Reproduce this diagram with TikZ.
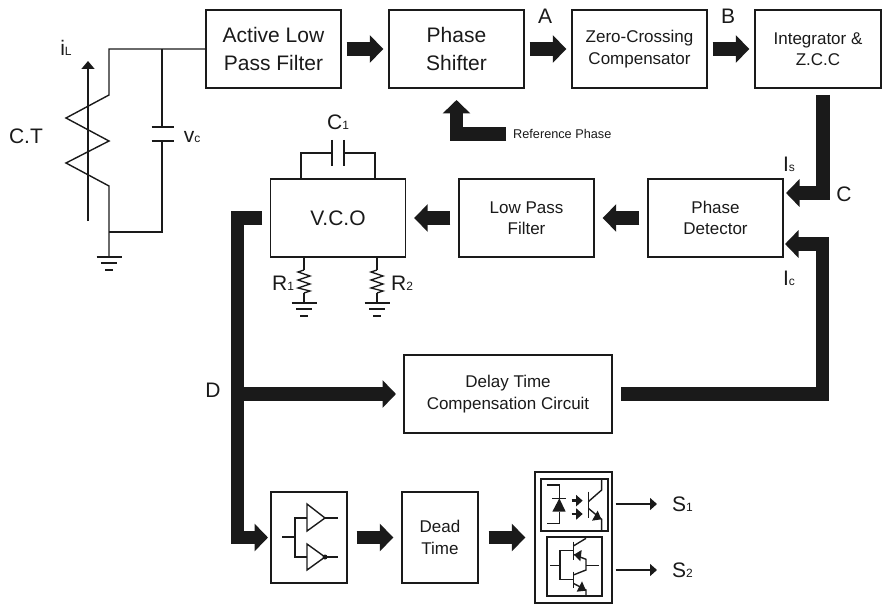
\documentclass[tikz,border=0pt]{standalone}
\usepackage{fontspec}
\setmainfont{Liberation Sans}
\usetikzlibrary{arrows.meta,calc}
\definecolor{ink}{HTML}{1A1A1A}
\newcommand\sbs[1]{{\fontsize{12}{12}\selectfont #1}}
\newcommand\bigtxt{\fontsize{21}{28}\selectfont}
\newcommand\midtxt{\fontsize{17}{21.5}\selectfont}
\tikzset{
  wire/.style={line width=1.4pt,draw=ink,line join=miter},
  thin wire/.style={line width=1.3pt,draw=ink},
  boxnode/.style={draw=ink,line width=1.4pt,inner sep=0pt,align=center,text=ink,minimum height=78pt},
  lbl/.style={inner sep=0pt,text=ink,font=\bigtxt},
  blockarrow/.style={draw=ink,line width=13.5pt,line join=miter,line cap=butt,
     -{Triangle[length=13.5pt,width=27pt,color=ink]}},
  sig/.style={wire,-{Triangle[length=7pt,width=12pt,color=ink]}},
  led/.style={line width=2.6pt,draw=ink,-{Triangle[length=6.5pt,width=11pt,color=ink]}},
  gnd/.pic={
    \draw[thin wire] (-12.5,0)--(12.5,0);
    \draw[thin wire] (-8,6)--(8,6);
    \draw[line width=1.7pt,draw=ink] (-4,13)--(4,13);
  },
  zz/.pic={
    \draw[thin wire] (0,0)--(-6,2)--(6,6)--(-6,10)--(6,14)--(-6,18)--(6,21)--(0,23);
  }
}
\begin{document}
\begin{tikzpicture}[x=1pt,y=-1pt]
\useasboundingbox (0,0) rectangle (882,604);
% ---- boxes
\node[boxnode,minimum width=135pt,font=\bigtxt] (alpf) at (273.5,49) {Active Low\\Pass Filter};
\node[boxnode,minimum width=135pt,font=\bigtxt] (shift) at (456.5,49) {Phase\\Shifter};
\node[boxnode,minimum width=135pt,font=\midtxt] (zcc) at (639.5,49) {Zero-Crossing\\Compensator};
\node[boxnode,minimum width=126pt,font=\midtxt] (integ) at (818,49) {Integrator \&\\Z.C.C};
\node[boxnode,minimum width=135pt,font=\midtxt] (pd) at (715.5,218) {Phase\\Detector};
\node[boxnode,minimum width=135pt,font=\midtxt] (lpf) at (526.5,218) {Low Pass\\Filter};
\node[boxnode,minimum width=135pt,font=\bigtxt] (vco) at (338,218) {V.C.O};
\node[boxnode,minimum width=208pt,font=\midtxt] (delay) at (508,394) {Delay Time\\Compensation Circuit};
\node[boxnode,minimum width=76pt,minimum height=91pt] (buf) at (309,537.5) {};
\node[boxnode,minimum width=76pt,minimum height=91pt,font=\midtxt] (dead) at (440,537.5) {Dead\\Time};
\node[boxnode,minimum width=77pt,minimum height=131pt] (drv) at (573.5,537.5) {};
\node[boxnode,minimum width=67pt,minimum height=52pt] (opto) at (574.5,505) {};
\node[boxnode,minimum width=55pt,minimum height=59pt] (igbt) at (574.5,566.5) {};
% ---- block arrows on the top row
\draw[blockarrow,shorten <=5pt,shorten >=5pt] (alpf.east) -- (shift.west);
\draw[blockarrow,shorten <=5pt,shorten >=5pt] (shift.east) -- (zcc.west);
\draw[blockarrow,shorten <=5pt,shorten >=5pt] (zcc.east) -- (integ.west);
% ---- middle row
\draw[blockarrow,shorten <=8pt,shorten >=8pt] (pd.west) -- (lpf.east);
\draw[blockarrow,shorten <=8pt,shorten >=8pt] (lpf.west) -- (vco.east);
% ---- reference phase
\node[inner sep=0pt,anchor=west,text=ink,font=\fontsize{12.7}{14}\selectfont] (refp) at (513,133.5) {Reference Phase};
\coordinate (refs) at (506,134);
\coordinate (refe) at (456.5,100);
\draw[blockarrow] (refs) -| (refe);
% ---- C path
\coordinate (cstart) at (823,95);
\coordinate (ctip) at (786,193);
\draw[blockarrow] (cstart) |- (ctip);
% ---- feedback path
\coordinate (fbtip) at (785,244);
\coordinate (fbs) at (621,394);
\draw[blockarrow] (fbs) -| (822.5,244) -- (fbtip);
% ---- D bus
\coordinate (dtop) at (262,218);
\coordinate (dj) at (237.5,394);
\coordinate (dtip) at (396,394);
\coordinate (btip) at (268,537.5);
\draw[blockarrow] (dtop) -| (237.5,537.5) -- (btip);
\draw[blockarrow] (dj) -- (dtip);
% ---- bottom row
\draw[blockarrow,shorten <=9pt,shorten >=8pt] (buf.east) -- (dead.west);
\draw[blockarrow,shorten <=10pt,shorten >=9pt] (dead.east) -- (drv.west);
% ---- output arrows
\node[lbl,anchor=west] (s1) at (672,504) {S\sbs{1}};
\node[lbl,anchor=west] (s2) at (672,570) {S\sbs{2}};
\draw[sig,shorten <=3pt] (drv.east |- s1) -- (657,504);
\draw[sig,shorten <=3pt] (drv.east |- s2) -- (657,570);
% ---- labels
\node[lbl] (la) at (545,16) {A};
\node[lbl] (lb) at (728,16) {B};
\node[lbl] (lc) at (844,194) {C};
\node[lbl] (ld) at (213,390) {D};
\node[lbl] (lis) at (789,164) {I\sbs{s}};
\node[lbl] (lic) at (789,278) {I\sbs{c}};
\node[lbl] (lct) at (26,136) {C.T};
\node[lbl] (lil) at (66,48) {i\sbs{L}};
\node[lbl] (lvc) at (192,137) {v\sbs{c}};
\node[lbl] (lc1) at (338,122.5) {C\sbs{1}};
\node[lbl] (lr1) at (283,283) {R\sbs{1}};
\node[lbl] (lr2) at (402,283) {R\sbs{2}};
% ---- C.T circuit
\coordinate (ctop) at (109,49);
\coordinate (ctbot) at (109,232);
\coordinate (capt) at (162,127);
\coordinate (capb) at (162,141);
\coordinate (g0) at (109,257);
\draw[wire] (alpf.west) -- (ctop) -- (109,95) -- (66,118) -- (109,141) -- (66,163) -- (109,186) -- (ctbot) -- (g0);
\draw[wire] (162,49) -- (capt);
\draw[wire] (capb) -- (162,232) -- (ctbot);
\draw[wire] (151.5,127) -- (173.5,127);
\draw[wire] (151.5,141) -- (173.5,141);
\coordinate (ia) at (88,221);
\coordinate (ib) at (88,61);
\draw[wire,-{Triangle[length=8pt,width=13pt,color=ink]}] (ia) -- (ib);
\path (g0) pic{gnd};
% ---- V.C.O parts
\coordinate (c1l) at (301,153);
\coordinate (c1r) at (375,153);
\draw[wire] (301,179) -- (c1l) -- (332,153);
\draw[wire] (375,179) -- (c1r) -- (344,153);
\draw[wire] (332,140) -- (332,166);
\draw[wire] (344,140) -- (344,166);
\coordinate (r1t) at (304,270);
\coordinate (r2t) at (377,270);
\draw[wire] (304,257) -- (r1t);
\draw[wire] (377,257) -- (r2t);
\path (r1t) pic{zz};
\path (r2t) pic{zz};
\draw[wire] (304,293) -- (304,303);
\draw[wire] (377,293) -- (377,303);
\path (304,303) pic{gnd};
\path (377,303) pic{gnd};
% ---- buffer symbols
\draw[wire] (282,537) -- (295,537);
\draw[wire] (307,518) -- (295,518) -- (295,557) -- (307,557);
\draw[wire] (307,504) -- (325,518) -- (307,531) -- cycle;
\draw[wire] (325,518) -- (338,518);
\draw[wire] (307,544) -- (325,557) -- (307,570) -- cycle;
\fill[ink] (325,557) circle (2.5);
\draw[wire] (325,557) -- (338,557);
% ---- opto-coupler symbol
\begin{scope}[shift={(500,460)},x=0.33333pt,y=-0.33333pt]
  \draw[wire] (140,75) -- (178,75) -- (178,115);
  \draw[wire] (178,155) -- (178,190) -- (140,190);
  \fill[ink] (178,115) -- (197,155) -- (157,155) -- cycle;
  \draw[wire] (157,115) -- (199,115);
  \draw[led] (215,122) -- (248,122);
  \draw[led] (215,162) -- (248,162);
  \draw[wire] (265,95) -- (265,175);
  \draw[wire] (265,125) -- (305,90) -- (305,60);
  \draw[wire] (265,145) -- (305,178) -- (305,213);
  \fill[ink] (304,178) -- (276,182) -- (293,152) -- cycle;
  % ---- IGBT pair
  \draw[wire] (150,316) -- (180,316);
  \draw[wire] (218,272) -- (180,272) -- (180,358) -- (218,358);
  \draw[wire] (220,245) -- (220,300);
  \draw[wire] (220,335) -- (220,385);
  \draw[wire] (220,258) -- (258,235);
  \draw[wire] (220,283) -- (258,298) -- (258,330) -- (220,345);
  \draw[wire] (220,370) -- (258,390) -- (258,408);
  \draw[wire] (258,316) -- (297,316);
  \fill[ink] (222,284) -- (245,270) -- (241,304) -- cycle;
  \fill[ink] (258,392) -- (230,395) -- (246,364) -- cycle;
\end{scope}
\end{tikzpicture}
\end{document}
